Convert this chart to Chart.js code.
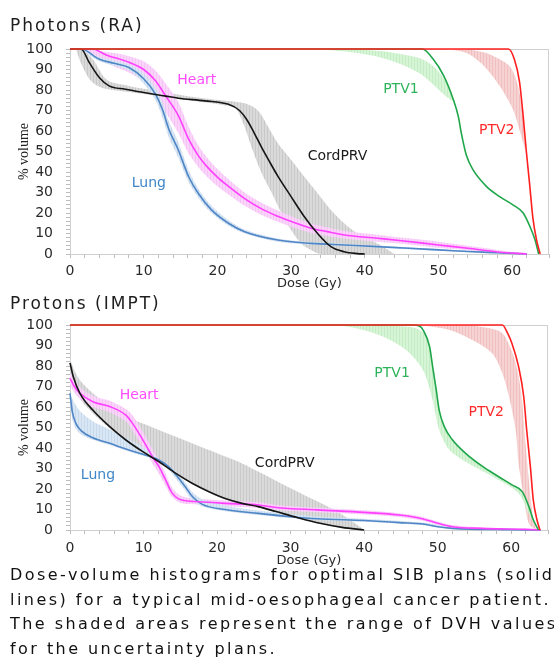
<!DOCTYPE html>
<html>
<head>
<meta charset="utf-8">
<script src="https://cdn.jsdelivr.net/npm/chart.js@4.4.1/dist/chart.umd.min.js"></script>
<style>
  body { margin: 0; background: #fff; width: 554px; height: 660px; overflow: hidden; position: relative; font-family: 'DejaVu Sans', sans-serif; }
  canvas { position: absolute; left: 0; }
  .title { position: absolute; left: 10px; font-size: 17px; line-height: 20px; letter-spacing: 2px; color: #1e1e1e; }
  #caption { position: absolute; left: 10px; top: 563px; width: 544px; overflow: hidden; font-size: 16px; line-height: 24.5px; color: #111; letter-spacing: 2.45px; white-space: nowrap; }
</style>
</head>
<body>
<canvas id="photonChart" width="554" height="296" style="top:0"></canvas>
<canvas id="protonChart" width="554" height="280" style="top:290px"></canvas>
<div class="title" style="top:15px">Photons (RA)</div>
<div class="title" style="top:293px">Protons (IMPT)</div>
<div id="caption">Dose-volume histograms for optimal SIB plans (solid<br>lines) for a typical mid-oesophageal cancer patient.<br>The shaded areas represent the range of DVH values<br>for the uncertainty plans.</div>
<script>
// [dose Gy, % volume]
const phLung = [[0,100],[1.5,100],[4,95],[6,93],[8,91],[10,85.5],[11.6,78],[12.6,70],[13.4,61],[14.7,50.7],[16.1,37.7],[17.4,29.6],[19.2,21.5],[21.5,15],[23.7,10.9],[28.2,6.8],[32.7,5.2],[37.2,4.4],[41.7,3.6],[46,2.8],[50,2],[54,1.2],[58,0.6],[62,0]];
const phLungLo = [[1.5,100],[4,94],[8,89.5],[10,83],[11.6,75],[12.6,66],[13.4,57],[14.7,47],[16.1,35],[17.4,27.5],[19.2,20],[21.5,13.8],[23.7,10],[28.2,6],[32.7,4.6],[37.2,3.9],[41.7,3.1],[50,1.6],[58,0.3],[62,0]];
const phLungHi = [[1.5,100],[4,96],[8,92.5],[10,88],[11.6,81],[12.6,73.5],[13.4,65],[14.7,54.5],[16.1,41],[17.4,32],[19.2,23.5],[21.5,16.5],[23.7,12],[28.2,7.6],[32.7,5.8],[37.2,5],[41.7,4.1],[50,2.4],[58,0.9],[62,0]];

const phHeart = [[0,100],[3,100],[5,97],[8,93.5],[10,90],[11.6,84.5],[13,77],[14.7,67.5],[16.1,56],[17.4,48],[18.5,43],[20,37.5],[21.5,33],[23.7,27],[26,22],[28.2,18.4],[30.5,15.2],[32.7,12.6],[34.9,10.9],[37.2,9.3],[41.7,7.7],[45,6.5],[50,4.4],[54,2.8],[58,1],[62,0]];
const phHeartLo = [[2,100],[4,95.5],[6,91.5],[8,88.5],[10,84],[11.6,77.5],[13,69],[14.7,59],[16.1,49],[17.4,42.5],[18.5,38],[20,33],[21.5,29],[23.7,23.5],[26,19],[28.2,15.7],[30.5,12.7],[32.7,10.4],[34.9,8.8],[37.2,7.4],[41.7,6],[45,5],[50,3],[54,1.8],[58,0.5],[62,0]];
const phHeartHi = [[2,100],[6,98],[8,96.5],[10,94],[11.6,89.5],[13,83],[14.7,74],[16.1,62],[17.4,53],[18.5,47.5],[20,41.5],[21.5,36.5],[23.7,30],[26,25],[28.2,21.2],[30.5,17.7],[32.7,14.9],[34.9,13],[37.2,11.2],[41.7,9.4],[45,8],[50,6],[54,4],[58,2],[62,0]];

const phCord = [[0,100],[1.5,100],[2.6,93.5],[4,86],[5.3,82],[7.5,80.4],[10,78.8],[13,77],[14.7,76],[18.3,74.7],[21.5,73],[23,70],[24,65.5],[25,59],[26,52],[27,45.5],[28.2,38],[30,28],[31.8,18.2],[33.6,10],[35.4,3.6],[37.2,1.1],[39,0.2],[40,0]];
const phCordLo = [[0.8,100],[1.5,93],[2.5,86],[3.5,82.5],[5,80.5],[8,79],[12,77],[16,75],[19.2,73.5],[21,72.5],[22.4,71.5],[23.7,62],[24.6,52.5],[26,39.5],[27.4,29.6],[28.7,19.8],[30,11.7],[31.4,5],[32.7,1.9],[34,0],[44,0]];
const phCordHi = [[0.8,100],[1.5,100],[3,95.5],[5,85],[8,82],[12,79.5],[16,77],[19.2,75.5],[23.7,73.5],[25.5,70],[26.9,62],[28.2,54],[30,46],[31.8,37.7],[33.6,29.6],[35.4,21.5],[37.2,15],[39,10],[40.8,6.8],[42.5,3.5],[44,0]];

const phPtv1 = [[0,100],[47.8,100],[49.3,95],[50.7,87],[52,75.5],[52.7,67],[53.1,59],[53.8,48],[54.7,41],[56.5,33],[58.3,28],[60.1,24],[61.5,20],[62.4,13.5],[63.1,7],[63.6,0]];
const phPtv1Lo = [[33,100],[38,98.5],[42,96],[45,92.5],[47.5,88],[49.5,82],[51,77],[52.2,74]];
const phPtv1Hi = [[33,100],[38,99.8],[42,99],[45,97.5],[47.5,95.5],[49.5,91],[51,84],[52.2,74]];

const phPtv2 = [[0,100],[59.5,100],[60.3,95],[61,84],[61.5,67],[61.9,51],[62.4,33],[62.8,18],[63.3,7],[63.8,0]];
const phPtv2Lo = [[51,100],[53.8,98],[56.1,92],[58.3,82],[60.1,70.6],[61.2,58],[61.8,50]];
const phPtv2Hi = [[51,100],[53,100],[56,98.5],[58.3,95],[59.8,91],[60.8,82],[61.5,66],[61.8,50]];

const prLung = [[0,66.7],[0.3,58],[0.8,52],[1.5,48.5],[3.1,45],[5.4,42.3],[7.6,39.5],[9.9,37],[11.9,34.5],[13.4,30.9],[14.4,27],[15.7,21],[16.6,16.5],[18,12.5],[21.1,10],[25.6,8.1],[30,6.5],[33.6,5.5],[40,4.6],[44.8,3.6],[48,2.9],[50,1.6],[52,0.8],[60,0.2],[64,0]];
const prLungLo = [[0,62],[0.45,52],[1.35,47],[3.1,44],[5.4,41.5],[7.6,38.8],[9.9,36.2],[11.9,34],[13.4,29.5],[14.4,25],[15.7,19],[16.6,14.5],[18,11.5],[21.1,9.2],[25.6,7.3],[30,5.8],[34,4.8],[40,4],[48,2.3],[52,0.5],[64,0]];
const prLungHi = [[0,67],[0.45,63],[1.35,58],[3.1,53],[5.4,49],[7.6,45],[9.9,40.5],[11.9,35],[13.4,31.5],[14.4,28.5],[15.7,23],[16.6,18.5],[18,15],[21.1,12],[25.6,9.5],[30,7.8],[34,6.5],[40,5.5],[48,3.6],[52,1.2],[60,0.4],[64,0]];

const prHeart = [[0,74],[0.6,70],[1.35,66.7],[3.1,62.6],[5.4,60.2],[7.6,56],[8.5,52],[9.9,44],[11.2,35.8],[12.1,30.9],[13,24.4],[13.9,18],[15.2,14.6],[17.5,13.8],[21.1,13],[25.6,12.2],[28,11],[33.6,9.8],[40,8.6],[44.8,7.3],[48,5.4],[50,3.3],[52,1.6],[56,0.8],[62,0.3],[64,0]];
const prHeartLo = [[0,71],[0.6,67],[1.35,64],[3.1,60],[5.4,57.5],[7.6,53],[8.5,48.5],[9.9,40.5],[11.2,32.5],[12.1,27.5],[13,21.5],[13.9,16],[15.2,13],[17.5,12.4],[21.1,11.6],[25.6,10.8],[28,9.8],[33.6,8.7],[40,7.6],[44.8,6.4],[48,4.5],[50,2.5],[52,1],[56,0.4],[64,0]];
const prHeartHi = [[0,77],[0.6,73],[1.35,69.5],[3.1,65.5],[5.4,63],[7.6,59],[8.5,56],[9.9,48],[11.2,39.5],[12.1,34],[13,27.5],[13.9,20.5],[15.2,16.5],[17.5,15.3],[21.1,14.4],[25.6,13.5],[28,12.2],[33.6,10.8],[40,9.6],[44.8,8.2],[48,6.4],[50,4.2],[52,2.4],[56,1.2],[62,0.5],[64,0]];

const prCord = [[0,81.5],[0.45,74.8],[1.35,66.7],[3.1,58.5],[5.4,50.4],[7.6,43.9],[9.9,38.2],[12.1,33.3],[14.4,27.6],[16.6,22.8],[18.9,18.7],[21.1,15.4],[23.4,13],[25.6,11.4],[28,9],[31,6],[34,3.3],[37,1.3],[40,0]];
const prCordLo = [[0,79],[0.45,71],[1.35,64],[3.1,57],[5.4,49.5],[7.6,43.2],[9.9,37.6],[12.1,32.8],[14.4,27.2],[16.6,22.4],[18.9,18.3],[21.1,15],[23.4,12.6],[25.6,11],[28,8.6],[31,5.6],[34,3],[37,1],[40,0]];
const prCordHi = [[0,84],[0.45,79],[1.35,73],[3.1,66.7],[5.4,60.2],[7.6,55.3],[9.9,52],[12.1,48.8],[14.4,45.5],[16.6,42.3],[18.9,39],[21.1,35.8],[23.4,32.5],[25.6,28.5],[28,24],[31.3,18],[35.8,10],[38.1,5],[40,0]];

const prPtv1 = [[0,100],[46.6,100],[47.5,99.5],[48,97.6],[48.9,89.4],[49.3,80],[49.8,68.3],[50.2,58.5],[50.9,50.4],[52,44],[53.8,37.4],[56.1,31],[58.3,26],[60.1,22],[61.5,18.7],[62.4,11.4],[63,5],[63.7,0]];
const prPtv1Lo = [[34,100],[38.1,99],[42.6,94.3],[45.7,87.8],[48,78],[49.3,63.4],[50.2,48.8],[51.6,39],[53.8,33.3],[58.3,24.4],[61,17.9],[62.4,8],[63.7,0]];
const prPtv1Hi = [[34,100],[38,100],[44,99.5],[47,98.5],[48.3,95],[48.9,89],[49.3,80],[49.8,68],[50.2,58],[50.9,50],[52,44],[53.8,37.4],[56.1,31],[58.3,26],[60.1,22],[61.5,18.7],[62.4,11.4],[63,5],[63.7,0]];

const prPtv2 = [[0,100],[58.8,100],[59.5,96],[60.1,91],[61,79.7],[61.7,65],[62.1,48.8],[62.6,31],[63,14.6],[63.5,5],[63.9,0]];
const prPtv2Lo = [[47.5,100],[51.6,97.6],[54.7,92.7],[57.4,86.2],[58.8,76.4],[59.7,65],[60.6,48.8],[61,32.5],[61.7,16.3],[62.4,3],[63.4,0]];
const prPtv2Hi = [[47.5,100],[52,100],[55,99.5],[57.5,98],[58.8,96],[59.5,92],[60.3,85],[61,75],[61.5,62],[61.8,48],[62.2,32],[62.6,17],[63,5],[63.4,0]];

const doseTicks = [0, 10, 20, 30, 40, 50, 60];
const volumeTicks = [0, 10, 20, 30, 40, 50, 60, 70, 80, 90, 100];

const colors = {
    lung: '#4f86c6',
    heart: '#ff40ff',
    cord: '#151515',
    ptv1: '#1fa64a',
    ptv2: '#ff1f1f'
};

function stripes(base, line) {
    const c = document.createElement('canvas');
    c.width = 3;
    c.height = 4;
    const g = c.getContext('2d');
    g.fillStyle = base;
    g.fillRect(0, 0, 3, 4);
    g.fillStyle = line;
    g.fillRect(0, 0, 1, 4);
    return g.createPattern(c, 'repeat');
}

const bandFill = {
    lung: stripes('#d9e6f4', '#c8d9ed'),
    heart: stripes('#fbd4fb', '#f5c4f5'),
    cord: stripes('#dadada', '#c9c9c9'),
    ptv1: stripes('#d6f4d6', '#c4edc4'),
    ptv2: stripes('#f7d2d2', '#f0c0c0')
};

const pts = arr => arr.map(p => ({ x: p[0], y: p[1] }));

// upper edge forward, lower edge back: one closed shape per band
const band = (lo, hi, key) => ({
    data: pts(hi).concat(pts(lo).reverse()),
    borderColor: 'rgba(0,0,0,0)', borderWidth: 0.5, pointRadius: 0,
    fill: 'shape', backgroundColor: bandFill[key], tension: 0.3, order: 20
});

const line = (arr, key, order) => ({
    data: pts(arr), borderColor: colors[key], borderWidth: 1.6, pointRadius: 0, fill: false,
    order: order, cubicInterpolationMode: 'monotone', clip: 4
});

const framePlugin = {
    id: 'frame',
    beforeDatasetsDraw(chart) {
        const a = chart.chartArea;
        const ctx = chart.ctx;
        ctx.save();
        ctx.strokeStyle = '#cfcfcf';
        ctx.lineWidth = 1;
        ctx.strokeRect(Math.round(a.left) + 0.5, Math.round(a.top) + 0.5, Math.round(a.right - a.left) - 1, Math.round(a.bottom - a.top));
        ctx.restore();
    }
};

const labelPlugin = {
    id: 'organLabels',
    afterDatasetsDraw(chart, args, opts) {
        const ctx = chart.ctx;
        const x = chart.scales.x;
        const y = chart.scales.y;
        ctx.save();
        ctx.font = '14px "DejaVu Sans"';
        ctx.textAlign = 'center';
        ctx.textBaseline = 'middle';
        opts.items.forEach(it => {
            ctx.fillStyle = it.color;
            ctx.fillText(it.text, x.getPixelForValue(it.x), y.getPixelForValue(it.y));
        });
        ctx.restore();
    }
};

const tickFont = { family: 'DejaVu Sans', size: 14 };

function makeChart(id, datasets, items, pad) {
    const ctx = document.getElementById(id).getContext('2d');
    return new Chart(ctx, {
        type: 'line',
        data: { datasets: datasets },
        plugins: [framePlugin, labelPlugin],
        options: {
            responsive: false,
            animation: false,
            devicePixelRatio: 1,
            layout: { padding: { top: pad.top, right: 1, left: 0, bottom: 0 } },
            plugins: {
                legend: { display: false },
                tooltip: { enabled: false },
                organLabels: { items: items }
            },
            scales: {
                x: {
                    type: 'linear', min: 0, max: 65,
                    border: { color: '#bdbdbd' },
                    grid: { drawOnChartArea: false, drawTicks: true, tickLength: 4, color: '#bdbdbd' },
                    ticks: {
                        stepSize: 2, autoSkip: false, maxRotation: 0, padding: pad.xTick,
                        color: '#2a2a2a', font: tickFont,
                        callback: v => doseTicks.includes(v) ? String(v) : ''
                    },
                    title: { display: true, text: 'Dose (Gy)', color: '#2a2a2a', font: { family: 'DejaVu Sans', size: 13 }, padding: { top: 0, bottom: pad.xTitle } },
                    afterFit: s => { s.height = pad.xHeight; }
                },
                y: {
                    min: 0, max: 100,
                    border: { color: '#bdbdbd' },
                    grid: { drawOnChartArea: false, drawTicks: true, tickLength: 4, color: '#bdbdbd' },
                    ticks: {
                        stepSize: 2, autoSkip: false, padding: 13,
                        color: '#2a2a2a', font: tickFont,
                        callback: v => volumeTicks.includes(v) ? String(v) : ''
                    },
                    title: { display: true, text: '% volume', color: '#222', font: { family: 'Liberation Sans Narrow', size: 14 }, padding: { top: 16, bottom: 0 } },
                    afterFit: s => { s.width = 70; }
                }
            }
        }
    });
}

makeChart('photonChart', [
    band(phLungLo, phLungHi, 'lung'),
    band(phHeartLo, phHeartHi, 'heart'),
    band(phCordLo, phCordHi, 'cord'),
    band(phPtv1Lo, phPtv1Hi, 'ptv1'),
    band(phPtv2Lo, phPtv2Hi, 'ptv2'),
    line(phLung, 'lung', 5),
    line(phHeart, 'heart', 4),
    line(phCord, 'cord', 3),
    line(phPtv1, 'ptv1', 2),
    line(phPtv2, 'ptv2', 1)
], [
    { text: 'Heart', x: 17.2, y: 84.8, color: '#ff4cff' },
    { text: 'PTV1', x: 44.9, y: 80.4, color: '#2db35a' },
    { text: 'PTV2', x: 57.9, y: 60.3, color: '#ff2a2a' },
    { text: 'CordPRV', x: 36.3, y: 47.5, color: '#1a1a1a' },
    { text: 'Lung', x: 10.7, y: 34.3, color: '#3f86c8' }
], { top: 49, xHeight: 42, xTick: 5, xTitle: 5 });

makeChart('protonChart', [
    band(prLungLo, prLungHi, 'lung'),
    band(prHeartLo, prHeartHi, 'heart'),
    band(prCordLo, prCordHi, 'cord'),
    band(prPtv1Lo, prPtv1Hi, 'ptv1'),
    band(prPtv2Lo, prPtv2Hi, 'ptv2'),
    line(prLung, 'lung', 5),
    line(prHeart, 'heart', 4),
    line(prCord, 'cord', 3),
    line(prPtv1, 'ptv1', 2),
    line(prPtv2, 'ptv2', 1)
], [
    { text: 'PTV1', x: 43.8, y: 76.6, color: '#2db35a' },
    { text: 'Heart', x: 9.4, y: 65.9, color: '#ff4cff' },
    { text: 'PTV2', x: 56.6, y: 57.6, color: '#ff2a2a' },
    { text: 'CordPRV', x: 29.2, y: 32.7, color: '#1a1a1a' },
    { text: 'Lung', x: 3.8, y: 26.8, color: '#3f86c8' }
], { top: 35, xHeight: 40, xTick: 6, xTitle: 2 });
</script>
</body>
</html>
